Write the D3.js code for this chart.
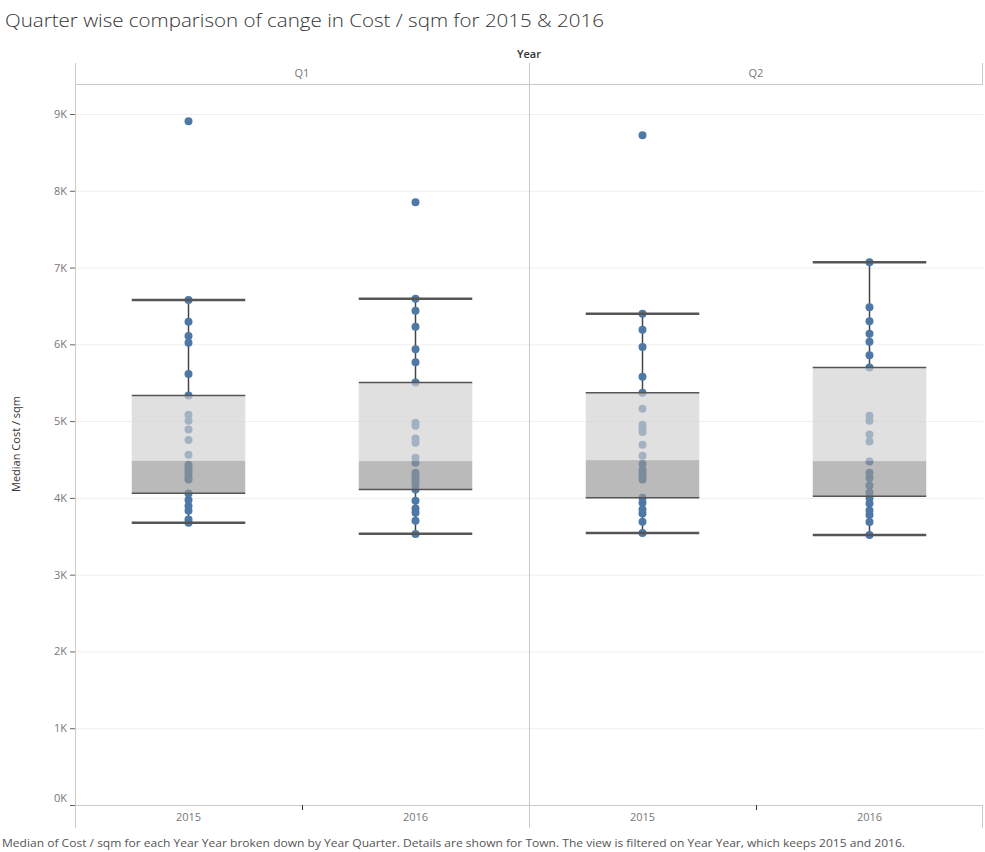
<!DOCTYPE html>
<html>
<head>
<meta charset="utf-8">
<script src="https://cdn.jsdelivr.net/npm/d3@7"></script>
<style>
  html, body { margin: 0; padding: 0; background: #fff; }
  svg { display: block; }
  text { font-family: "Open Sans", "Noto Sans", sans-serif; }
</style>
</head>
<body>
<svg id="chart" width="985" height="852"></svg>
<script>
// ---------- data ----------
const quarters = ["Q1", "Q2"];
const years = ["2015", "2016"];
const yTicks = [0, 1000, 2000, 3000, 4000, 5000, 6000, 7000, 8000, 9000];
const yTickLabels = ["0K", "1K", "2K", "3K", "4K", "5K", "6K", "7K", "8K", "9K"];

// town-level median cost / sqm
const q1_2015 = [8906, 6576, 6293, 6107, 6020, 5612, 5335, 5082, 5004, 4892, 4753, 4561, 4430, 4400, 4360, 4320, 4270, 4240, 4057, 3971, 3893, 3832, 3719, 3676];
const q1_2016 = [7852, 6593, 6436, 6228, 5937, 5768, 5504, 4978, 4940, 4775, 4718, 4522, 4457, 4326, 4290, 4250, 4210, 4167, 4110, 3962, 3863, 3806, 3702, 3529];
const q2_2015 = [8724, 6397, 6189, 5964, 5577, 5369, 5160, 4952, 4900, 4857, 4691, 4548, 4440, 4360, 4320, 4280, 4240, 4001, 3936, 3850, 3798, 3689, 3542];
const q2_2016 = [7070, 6484, 6302, 6137, 6033, 5859, 5699, 5069, 5004, 4827, 4736, 4475, 4326, 4260, 4160, 4070, 4000, 3928, 3837, 3776, 3685, 3517];

// box plot statistics, order: Q1-2015, Q1-2016, Q2-2015, Q2-2016
const boxCells   = [["Q1", "2015"], ["Q1", "2016"], ["Q2", "2015"], ["Q2", "2016"]];
const whiskerLow = [3676, 3533, 3542, 3517];
const boxQ1      = [4059, 4110, 4001, 4020];
const boxMedian  = [4482, 4479, 4492, 4479];
const boxQ3      = [5335, 5504, 5369, 5699];
const whiskerHigh= [6576, 6593, 6397, 7070];

const pointSets = [q1_2015, q1_2016, q2_2015, q2_2016];

// ---------- layout ----------
const svg = d3.select("#chart");
const plotLeft = 75, plotRight = 983, plotTop = 84, plotBottom = 805;
const headerTop = 63, footerBottom = 828;

const xQ = d3.scaleBand().domain(quarters).range([plotLeft, plotRight]).padding(0);
const xY = d3.scaleBand().domain(years).range([0, xQ.bandwidth()]).padding(0);
const y = d3.scaleLinear().domain([0, 9000]).range([plotBottom, 114]);

// title
svg.append("text")
  .attr("x", 5).attr("y", 27)
  .attr("font-size", 19).attr("font-weight", 300)
  .attr("fill", "#333")
  .attr("textLength", 599).attr("lengthAdjust", "spacingAndGlyphs")
  .text("Quarter wise comparison of cange in Cost / sqm for 2015 & 2016");

// "Year" header
svg.append("text")
  .attr("x", (plotLeft + plotRight) / 2).attr("y", 58)
  .attr("text-anchor", "middle")
  .attr("font-size", 11).attr("font-weight", 600).attr("fill", "#333")
  .text("Year");

// gridlines
svg.append("g").selectAll("line").data(yTicks.filter(d => d > 0)).join("line")
  .attr("x1", plotLeft).attr("x2", plotRight)
  .attr("y1", d => y(d) + 0.5).attr("y2", d => y(d) + 0.5)
  .attr("stroke", "#efefef").attr("stroke-width", 1);

// frame lines
const frame = svg.append("g").attr("stroke", "#cacaca").attr("stroke-width", 1);
frame.append("line").attr("x1", plotLeft).attr("x2", plotRight).attr("y1", plotTop + 0.5).attr("y2", plotTop + 0.5);
frame.append("line").attr("x1", plotLeft).attr("x2", plotRight).attr("y1", plotBottom + 0.5).attr("y2", plotBottom + 0.5);
frame.append("line").attr("x1", plotLeft + 0.5).attr("x2", plotLeft + 0.5).attr("y1", headerTop).attr("y2", footerBottom);
frame.append("line").attr("x1", xQ("Q2") + 0.5).attr("x2", xQ("Q2") + 0.5).attr("y1", headerTop).attr("y2", footerBottom);
frame.append("line").attr("x1", plotRight - 0.5).attr("x2", plotRight - 0.5).attr("y1", headerTop).attr("y2", plotTop);
frame.append("line").attr("x1", plotRight - 0.5).attr("x2", plotRight - 0.5).attr("y1", plotBottom).attr("y2", footerBottom);

// quarter headers
svg.append("g").selectAll("text").data(quarters).join("text")
  .attr("x", d => xQ(d) + xQ.bandwidth() / 2).attr("y", 77)
  .attr("text-anchor", "middle").attr("font-size", 11).attr("fill", "#777")
  .text(d => d);

// y axis
const yAxis = d3.axisLeft(y).tickValues(yTicks).tickSize(5).tickPadding(3)
  .tickFormat((d, i) => yTickLabels[i]);
const gy = svg.append("g").attr("transform", `translate(${plotLeft},0)`).call(yAxis);
gy.select(".domain").remove();
gy.selectAll(".tick line").attr("stroke", "#666");
gy.selectAll(".tick text").attr("font-size", 11).attr("fill", "#777")
  .attr("font-family", "'Open Sans', sans-serif");
gy.selectAll(".tick text").filter(d => d === 0).attr("dy", "-0.35em");

// y axis title
svg.append("text")
  .attr("transform", "translate(20,444) rotate(-90)")
  .attr("text-anchor", "middle").attr("font-size", 11).attr("fill", "#333")
  .text("Median Cost / sqm");

// x axis (years in each quarter)
quarters.forEach(q => {
  const g = svg.append("g").attr("transform", `translate(${xQ(q)},${plotBottom})`);
  const ax = d3.axisBottom(xY).tickSize(0).tickPadding(8);
  g.call(ax);
  g.select(".domain").remove();
  g.selectAll(".tick text").attr("font-size", 11).attr("fill", "#777")
    .attr("font-family", "'Open Sans', sans-serif");
  g.append("line")
    .attr("x1", xY("2016") + 0.5).attr("x2", xY("2016") + 0.5)
    .attr("y1", 0).attr("y2", 5).attr("stroke", "#333");
});

// boxes
const boxW = xY.bandwidth() * 0.5;
boxCells.forEach(([q, yr], i) => {
  const cx = xQ(q) + xY(yr) + xY.bandwidth() / 2;
  const g = svg.append("g");
  g.append("line").attr("x1", cx).attr("x2", cx)
    .attr("y1", y(whiskerHigh[i])).attr("y2", y(boxQ3[i]))
    .attr("stroke", "#444").attr("stroke-width", 1.5);
  g.append("line").attr("x1", cx).attr("x2", cx)
    .attr("y1", y(boxQ1[i])).attr("y2", y(whiskerLow[i]))
    .attr("stroke", "#444").attr("stroke-width", 1.5);
  g.selectAll("circle").data(pointSets[i]).join("circle")
    .attr("cx", cx).attr("cy", d => y(d)).attr("r", 4)
    .attr("fill", "#4e79a7");
  g.append("rect")
    .attr("x", cx - boxW / 2).attr("width", boxW)
    .attr("y", y(boxQ3[i])).attr("height", y(boxMedian[i]) - y(boxQ3[i]))
    .attr("fill", "rgb(208,208,208)").attr("fill-opacity", 0.655);
  g.append("rect")
    .attr("x", cx - boxW / 2).attr("width", boxW)
    .attr("y", y(boxMedian[i])).attr("height", y(boxQ1[i]) - y(boxMedian[i]))
    .attr("fill", "rgb(150,150,150)").attr("fill-opacity", 0.655);
  [boxQ3[i], boxQ1[i]].forEach(v => {
    g.append("line").attr("x1", cx - boxW / 2).attr("x2", cx + boxW / 2)
      .attr("y1", y(v)).attr("y2", y(v))
      .attr("stroke", "#555").attr("stroke-width", 1.5);
  });
  [whiskerHigh[i], whiskerLow[i]].forEach(v => {
    g.append("line").attr("x1", cx - boxW / 2).attr("x2", cx + boxW / 2)
      .attr("y1", y(v)).attr("y2", y(v))
      .attr("stroke", "#555").attr("stroke-width", 2.5);
  });
});

// footer
svg.append("text")
  .attr("x", 2).attr("y", 847)
  .attr("font-size", 11).attr("fill", "#555")
  .attr("textLength", 903).attr("lengthAdjust", "spacingAndGlyphs")
  .text("Median of Cost / sqm for each Year Year broken down by Year Quarter.  Details are shown for Town. The view is filtered on Year Year, which keeps 2015 and 2016.");
</script>
</body>
</html>
